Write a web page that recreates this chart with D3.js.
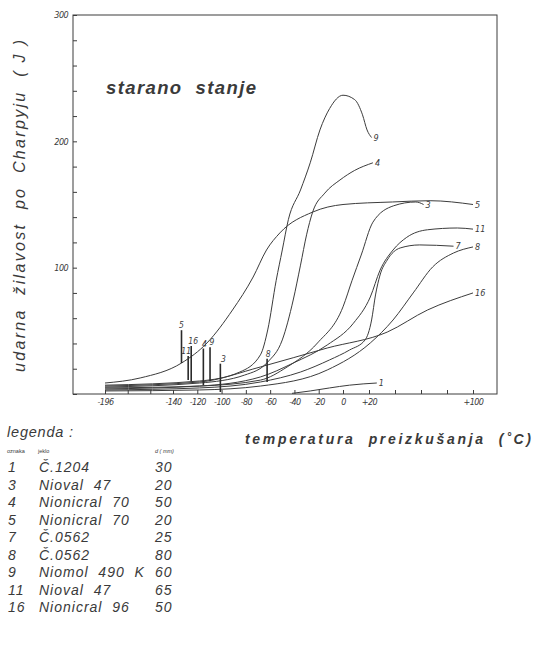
<!DOCTYPE html>
<html>
<head>
<meta charset="utf-8">
<script src="https://cdn.jsdelivr.net/npm/d3@7"></script>
<style>
  html, body { margin: 0; padding: 0; background: #fff; }
  svg { display: block; }
  text { fill: #3a3a3a; white-space: pre; }
</style>
</head>
<body>
<div id="chart"></div>
<script>
// ---------------- data ----------------
const curveIds = ["1", "3", "4", "5", "7", "8", "9", "11", "16"];

const temps1 = [-42, -27, -11, 5, 26];
const vals1  = [0.5, 2.4, 4.8, 7, 8.7];

const temps3 = [-196, -118, -68, -46, -21, 0, 7, 14, 23, 39, 56, 62];
const vals3  = [4.8, 6.3, 11, 21.4, 40.4, 69, 90, 110, 136, 149, 152, 150];

const temps4 = [-196, -118, -81, -62, -50, -41, -35, -30, -25, -15, -2.5, 9, 23];
const vals4  = [5.5, 8.7, 15, 25.3, 42.8, 74.4, 102, 126, 144, 159, 169.4, 177, 183];

const temps5 = [-196, -167, -133, -112, -91, -74, -63, -52, -25, 0, 38, 67, 100];
const vals5  = [8.7, 12.7, 24.5, 40.4, 66.5, 92.6, 114, 127.5, 144, 150, 152, 153, 150];

const temps7 = [-196, -118, -68, -35, -11, 5, 17, 22, 25, 28.5, 34, 44, 59, 85];
const vals7  = [3.2, 4.8, 9.5, 17.4, 27, 34.8, 42.8, 58.6, 78.4, 94.2, 106, 115.6, 118, 117];

const temps8 = [-196, -118, -68, -13, 21, 38.5, 54, 69, 85, 100];
const vals8  = [2.4, 3.2, 6.3, 19, 40.4, 58.6, 80, 100.6, 111.6, 116.4];

const temps9 = [-196, -118, -85, -68, -62, -55, -50, -45, -35, -27, -19, -11, 0, 9, 15, 18.5, 22];
const vals9  = [7, 10.3, 17.4, 31, 50.7, 90, 114, 138, 161.5, 183, 209, 226, 236.5, 233, 221, 209, 203];

const temps11 = [-196, -118, -68, -41, -13, 8, 21, 28.5, 38.5, 49, 65, 88, 100];
const vals11  = [4, 6.3, 13.5, 24.5, 38.8, 56, 76.8, 98, 114, 124, 130, 131.4, 130.5];

const temps16 = [-196, -118, -68, -13, 34, 65, 100];
const vals16  = [6.3, 9.5, 21.4, 36.4, 49, 66.5, 80];

// vertical marker bars near the bottom-left
const markerIds   = ["5", "11", "16", "4", "9", "3", "8"];
const markerTemps = [-133, -127.5, -125, -115, -109.5, -101, -62.5];
const markerLow   = [24.5, 11, 10, 7, 10, 1.6, 9.5];
const markerHigh  = [50.5, 30, 38, 36, 37, 24, 28];

// axes
const xTickValues = [-196, -140, -120, -100, -80, -60, -40, -20, 0, 20, 100];
const xTickLabels = ["-196", "-140", "-120", "-100", "-80", "-60", "-40", "-20", "0", "+20", "+100"];
const xMinorTicks = [-177.3, -158.7, 40, 60, 80];
const yTickValues = [0, 20, 40, 60, 80, 100, 120, 140, 160, 180, 200, 220, 240, 260, 280, 300];
const yTickLabels = ["", "", "", "", "", "100", "", "", "", "", "200", "", "", "", "", "300"];

// legend
const legendIds       = ["1", "3", "4", "5", "7", "8", "9", "11", "16"];
const legendSteels    = ["Č.1204", "Nioval  47", "Nionicral  70", "Nionicral  70", "Č.0562", "Č.0562", "Niomol  490  K", "Nioval  47", "Nionicral  96"];
const legendDiameters = ["30", "20", "50", "20", "25", "80", "60", "65", "50"];

const curveTemps = { "1": temps1, "3": temps3, "4": temps4, "5": temps5, "7": temps7, "8": temps8, "9": temps9, "11": temps11, "16": temps16 };
const curveVals  = { "1": vals1, "3": vals3, "4": vals4, "5": vals5, "7": vals7, "8": vals8, "9": vals9, "11": vals11, "16": vals16 };

// ---------------- drawing ----------------
const W = 534, H = 650;
const svg = d3.select("#chart").append("svg").attr("width", W).attr("height", H);

const x = d3.scaleLinear().domain([-196, -140, 0, 100]).range([105, 173, 343, 473]);
const y = d3.scaleLinear().domain([0, 300]).range([394, 15]);

const frameL = 73, frameR = 497, frameT = y(300), frameB = y(0);
const lineColor = "#3c3c3c";
const tickFont = "'DejaVu Sans Condensed', 'DejaVu Sans', sans-serif";

// frame
svg.append("rect")
  .attr("x", frameL).attr("y", frameT)
  .attr("width", frameR - frameL).attr("height", frameB - frameT)
  .attr("fill", "none").attr("stroke", lineColor).attr("stroke-width", 1);

// y axis
const yAxis = svg.append("g").attr("transform", `translate(${frameL},0)`)
  .call(d3.axisLeft(y).tickValues(yTickValues).tickSize(-4).tickPadding(5)
    .tickFormat((d, i) => yTickLabels[i]));
yAxis.select(".domain").remove();
yAxis.selectAll("line").attr("stroke", lineColor);
yAxis.selectAll("text").attr("font-family", tickFont).attr("font-size", 9)
  .attr("font-style", "italic").attr("fill", "#444").attr("letter-spacing", -0.6);

// x axis
const xAxis = svg.append("g").attr("transform", `translate(0,${frameB})`)
  .call(d3.axisBottom(x).tickValues(xTickValues).tickSize(-4).tickPadding(5)
    .tickFormat((d, i) => xTickLabels[i]));
xAxis.select(".domain").remove();
xAxis.selectAll("line").attr("stroke", lineColor);
xAxis.selectAll("text").attr("font-family", tickFont).attr("font-size", 9)
  .attr("font-style", "italic").attr("fill", "#444").attr("letter-spacing", -0.6);
const xMinor = svg.append("g").attr("transform", `translate(0,${frameB})`)
  .call(d3.axisBottom(x).tickValues(xMinorTicks).tickSize(-4).tickFormat(""));
xMinor.select(".domain").remove();
xMinor.selectAll("line").attr("stroke", lineColor);

// curves
const line = d3.line().x(d => x(d[0])).y(d => y(d[1])).curve(d3.curveMonotoneX);
const curvesG = svg.append("g");
curveIds.forEach(id => {
  const pts = d3.zip(curveTemps[id], curveVals[id]);
  curvesG.append("path").datum(pts)
    .attr("d", line).attr("fill", "none")
    .attr("stroke", lineColor).attr("stroke-width", 1);
  const last = pts[pts.length - 1];
  curvesG.append("text")
    .attr("x", x(last[0]) + 2).attr("y", y(last[1]) + 3)
    .attr("font-family", tickFont).attr("font-size", 9).attr("font-style", "italic")
    .attr("fill", "#444")
    .text(id);
});

// markers
const markerDx = [0, -2, 2, 1, 2, 3, 1];
markerIds.forEach((id, i) => {
  const mx = x(markerTemps[i]);
  svg.append("line")
    .attr("x1", mx).attr("x2", mx)
    .attr("y1", y(markerLow[i])).attr("y2", y(markerHigh[i]))
    .attr("stroke", "#2a2a2a").attr("stroke-width", 1.6);
  svg.append("text")
    .attr("x", mx + markerDx[i]).attr("y", y(markerHigh[i]) - 2)
    .attr("text-anchor", "middle")
    .attr("font-family", tickFont).attr("font-size", 8.5).attr("font-style", "italic")
    .attr("fill", "#444")
    .text(id);
});

// titles
svg.append("text")
  .attr("x", 106).attr("y", 94)
  .attr("font-family", "'Liberation Sans', Arial, sans-serif")
  .attr("font-size", 18.5).attr("font-weight", "bold").attr("font-style", "italic")
  .attr("textLength", 150).attr("lengthAdjust", "spacing")
  .attr("fill", "#333")
  .text("starano  stanje");

svg.append("text")
  .attr("transform", "translate(25,372) rotate(-90)")
  .attr("font-family", "'Liberation Sans', Arial, sans-serif")
  .attr("font-size", 16).attr("font-style", "italic")
  .attr("textLength", 332).attr("lengthAdjust", "spacing")
  .attr("fill", "#333")
  .text("udarna  žilavost  po  Charpyju  ( J )");

svg.append("text")
  .attr("x", 245).attr("y", 444)
  .attr("font-family", "'Liberation Sans', Arial, sans-serif")
  .attr("font-size", 14).attr("font-weight", "bold").attr("font-style", "italic")
  .attr("textLength", 286).attr("lengthAdjust", "spacing")
  .attr("fill", "#333")
  .text("temperatura  preizkušanja  (˚C)");

// legend
const legFont = "'Liberation Sans', Arial, sans-serif";
const lg = svg.append("g");
lg.append("text").attr("x", 7).attr("y", 437)
  .attr("font-family", legFont).attr("font-size", 14.5).attr("font-style", "italic")
  .attr("letter-spacing", 0.8).attr("fill", "#555").text("legenda :");
lg.append("text").attr("x", 7).attr("y", 453)
  .attr("font-family", legFont).attr("font-size", 5.5).attr("fill", "#666").text("oznaka");
lg.append("text").attr("x", 38).attr("y", 453)
  .attr("font-family", legFont).attr("font-size", 5.5).attr("fill", "#666").text("jeklo");
lg.append("text").attr("x", 155).attr("y", 453)
  .attr("font-family", legFont).attr("font-size", 5.5).attr("font-style", "italic").attr("fill", "#666").text("d ( mm)");

legendIds.forEach((id, i) => {
  const yy = 472 + i * 17.5;
  lg.append("text").attr("x", 8).attr("y", yy)
    .attr("font-family", legFont).attr("font-size", 14).attr("font-style", "italic")
    .attr("letter-spacing", 1).attr("fill", "#555").text(id);
  lg.append("text").attr("x", 39).attr("y", yy)
    .attr("font-family", legFont).attr("font-size", 14).attr("font-style", "italic")
    .attr("letter-spacing", 1).attr("fill", "#555").text(legendSteels[i]);
  lg.append("text").attr("x", 155).attr("y", yy)
    .attr("font-family", legFont).attr("font-size", 14).attr("font-style", "italic")
    .attr("letter-spacing", 1).attr("fill", "#555").text(legendDiameters[i]);
});
</script>
</body>
</html>
